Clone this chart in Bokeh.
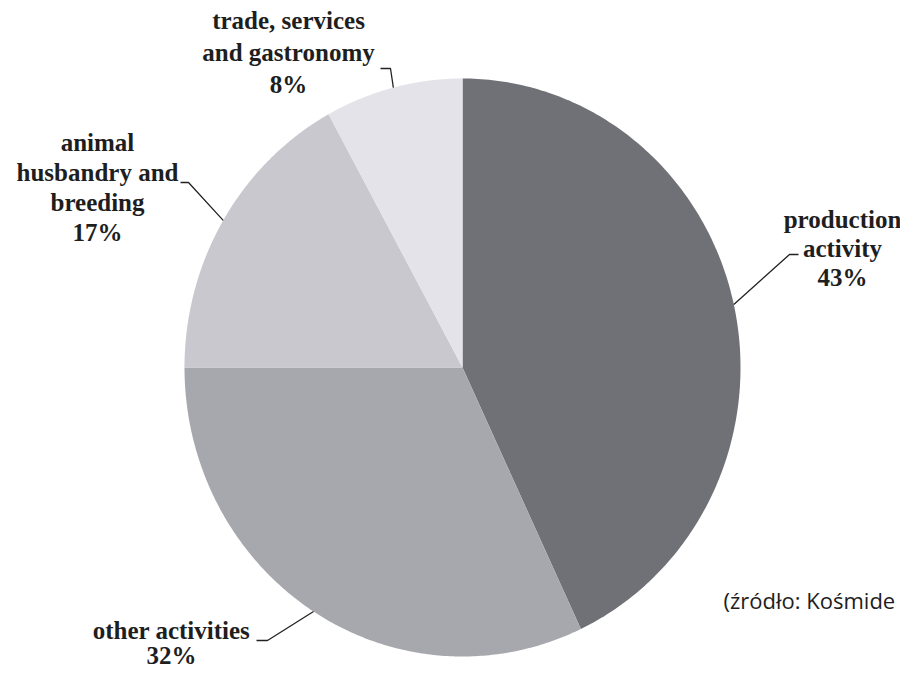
import numpy as np
from bokeh.plotting import figure
from bokeh.models import Range1d, ColumnDataSource
from bokeh.core.properties import value
from bokeh.embed import file_html
from bokeh.resources import INLINE

# ---- data ----
categories = ["production activity", "other activities",
              "animal husbandry and breeding", "trade, services and gastronomy"]
shares = [43, 32, 17, 8]
label_lines = [["production", "activity"],
               ["other activities"],
               ["animal", "husbandry and", "breeding"],
               ["trade, services", "and gastronomy"]]
colors = ["#707176", "#a7a8ad", "#c8c8ce", "#e3e3e9"]
source_note = "(źródło: Kośmide"

# ---- layout (picture pixels) ----
W, H = 900, 670
cx, cy = 462, 367
rx, ry = 278, 289
label_pos = [(842, 219), (171, 630), (97, 142), (288, 20)]   # centre x, first baseline
line_gaps = [29, 25, 30, 32]
elbows = [[(798, 254), (789, 254)], [(256, 640), (267, 640)],
          [(180, 182), (188, 182)], [(380, 68), (390, 68)]]

p = figure(width=W, height=H, x_range=Range1d(0, W), y_range=Range1d(H, 0),
           output_backend="svg", toolbar_location=None, min_border=0)
p.axis.visible = False
p.grid.visible = False
p.outline_line_color = None
p.background_fill_color = "white"

total = float(sum(shares))
xs, ys, mids = [], [], []
start = 0.0
for s in shares:
    end = start + s / total * 2 * np.pi
    th = np.linspace(start, end, 200)
    xs.append([cx] + list(cx + rx * np.sin(th)))
    ys.append([cy] + list(cy - ry * np.cos(th)))
    mids.append((start + end) / 2)
    start = end

p.patches(xs="xs", ys="ys", fill_color="color", line_color=None,
          source=ColumnDataSource(dict(xs=xs, ys=ys, color=colors, cat=categories)))

# leader lines
lx, ly = [], []
for el, m in zip(elbows, mids):
    ex, ey = cx + rx * np.sin(m), cy - ry * np.cos(m)
    lx.append([e[0] for e in el] + [ex])
    ly.append([e[1] for e in el] + [ey])
p.multi_line(lx, ly, line_color="#222222", line_width=1.3)

# labels
tx, ty, tt = [], [], []
for (x0, y0), gap, lines, s in zip(label_pos, line_gaps, label_lines, shares):
    for i, t in enumerate(lines + [f"{s}%"]):
        tx.append(x0)
        ty.append(y0 + i * gap)
        tt.append(t)
p.text(tx, ty, text=tt, text_align="center", text_baseline="alphabetic",
       text_font=value("Liberation Serif"), text_font_style="bold",
       text_font_size="25px", text_color="#1e1e1e")

p.text([723], [599], text=[source_note], text_align="left", text_baseline="alphabetic",
       text_font=value("Open Sans"), text_font_size="22px", text_color="#1e1e1e")

open("out.html", "w").write(file_html(p, INLINE))
